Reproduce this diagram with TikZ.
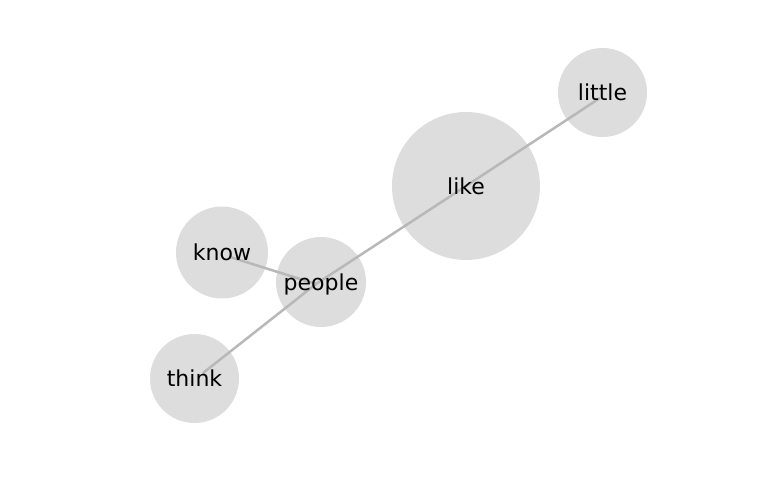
\documentclass[tikz,border=0pt]{standalone}
\usepackage{fontspec}
\setmainfont{DejaVu Sans}
\begin{document}
\begin{tikzpicture}[x=1pt,y=-1pt,
  bubble/.style={circle,fill=bubblegray,draw=none,inner sep=0pt},
  word/.style={inner sep=0pt,font=\fontsize{22}{24}\selectfont,text=black},
  link/.style={draw=edgegray,line width=2.5pt}]
\definecolor{bubblegray}{HTML}{DDDDDD}
\definecolor{edgegray}{HTML}{B8B8B8}
\useasboundingbox (0,0) rectangle (768,500);
% circles
\node[bubble,minimum size=89pt] (c-little) at (602.5,92.5) {};
\node[bubble,minimum size=148pt] (c-like) at (466,186) {};
\node[bubble,minimum size=92pt] (c-know) at (222,252.5) {};
\node[bubble,minimum size=90pt] (c-people) at (321,282) {};
\node[bubble,minimum size=89pt] (c-think) at (194.5,378.5) {};
% edge end points
\coordinate (p-little) at (600,98);
\coordinate (p-like) at (466,186);
\coordinate (p-people) at (316,284);
\coordinate (p-know) at (230,257);
\coordinate (p-think) at (203,373);
% edges
\draw[link] (p-little) -- (p-like);
\draw[link] (p-like) -- (p-people);
\draw[link] (p-know) -- (p-people);
\draw[link] (p-think) -- (p-people);
% labels
\node[word] (t-little) at (c-little) {little};
\node[word] (t-like) at (c-like) {like};
\node[word] (t-know) at (c-know) {know};
\node[word] (t-people) at ([yshift=-2pt]c-people) {people};
\node[word] (t-think) at (c-think) {think};
\end{tikzpicture}
\end{document}
